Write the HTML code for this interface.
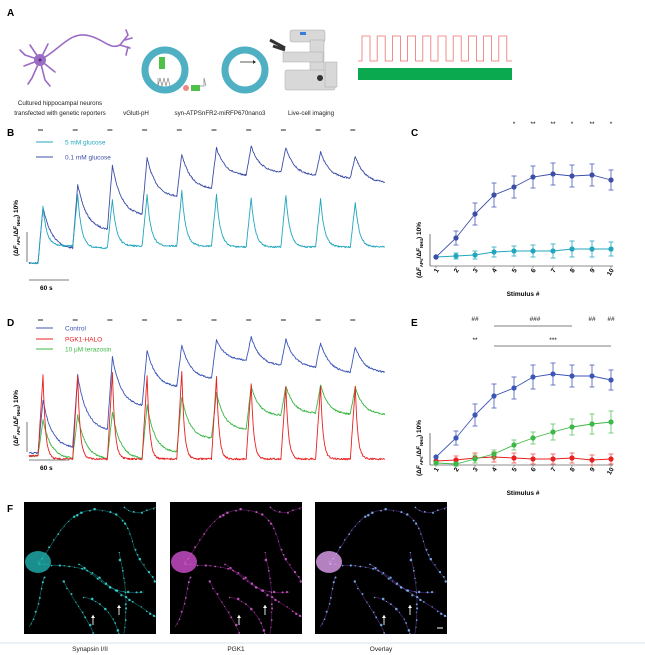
<!DOCTYPE html>
<html><head><meta charset="utf-8">
<style>
html,body{margin:0;padding:0;background:#fff;}
svg{display:block;font-family:"Liberation Sans",Arial,sans-serif;}
</style></head>
<body>
<svg id="s" width="645" height="655" viewBox="0 0 645 655" xmlns="http://www.w3.org/2000/svg">
<rect width="645" height="655" fill="#fff"/>
<text x="7" y="16" font-size="10" font-weight="bold">A</text>
<g stroke="#9b6cc4" stroke-width="1.6" fill="none" stroke-linecap="round">
 <path d="M40 60 C60 50 70 30 90 36 C105 40 110 50 120 45"/>
 <path d="M120 45 L128 35 M120 45 L130 48 M125 40 L132 38 M128 35 L126 30 M128 47 L126 55"/>
 <path d="M40 60 L25 55 M40 60 L24 66 M40 60 L32 78 M40 60 L45 80 M40 60 L55 72 M40 60 L30 45 M40 60 L48 44 M25 55 L20 50 M32 78 L28 84 M45 80 L50 86"/>
</g>
<circle cx="40" cy="60" r="6" fill="#9b6cc4"/><circle cx="40" cy="60" r="1.5" fill="#5a2a80"/>
<circle cx="165" cy="70" r="20" fill="none" stroke="#4fb0c3" stroke-width="7"/>
<rect x="159" y="57" width="6" height="12" fill="#4fc04a"/>
<path d="M158 78 l0 8 l2 -8 l2 8 l2 -8 l2 8 l2 -8 l2 8" stroke="#888" fill="none" stroke-width="0.7"/>
<circle cx="245" cy="70" r="20" fill="none" stroke="#4fb0c3" stroke-width="7"/>
<rect x="191" y="85" width="9" height="6" fill="#4fc04a"/><circle cx="186" cy="88" r="3" fill="#e88"/>
<path d="M200 86 l4 0 l0 -8 l2 8" stroke="#888" fill="none" stroke-width="0.7"/>
<line x1="240" y1="62" x2="253" y2="62" stroke="#333" stroke-width="0.8"/><path d="M253 60 l3 2 l-3 2z" fill="#333"/>
<g fill="#d8d8d8" stroke="#aaa" stroke-width="0.5">
 <rect x="290" y="30" width="35" height="12" rx="2"/>
 <rect x="310" y="40" width="14" height="45"/>
 <rect x="283" y="52" width="40" height="10"/>
 <rect x="285" y="70" width="50" height="20" rx="2"/>
 <rect x="325" y="62" width="12" height="25"/>
</g>
<rect x="300" y="32" width="6" height="3" fill="#3a7bd5"/>
<path d="M270 40 l15 8 M273 46 l12 4" stroke="#333" stroke-width="3"/>
<circle cx="320" cy="78" r="3" fill="#333"/>
<path id="sq" fill="none" stroke="#f07070" stroke-width="0.8"/>
<rect x="358" y="68" width="154" height="12" fill="#0aa84f"/>
<g font-size="6.2" fill="#222" text-anchor="middle">
<text x="60" y="105">Cultured hippocampal neurons</text>
<text x="60" y="115">transfected with genetic reporters</text>
<text x="136" y="115">vGlutl-pH</text>
<text x="220" y="115">syn-ATPSnFR2-miRFP670nano3</text>
<text x="311" y="115">Live-cell imaging</text>
</g>
<g font-size="10" font-weight="bold"><text x="7" y="136">B</text><text x="411" y="136">C</text><text x="7" y="326">D</text><text x="411" y="326">E</text><text x="7" y="512">F</text></g>
<g id="traces"></g>
<g id="plots"></g>
<g id="imgs"></g>
<line x1="0" y1="643" x2="645" y2="643" stroke="#d6e4f0" stroke-width="1"/>
<g font-size="6.5" fill="#222" text-anchor="middle">
<text x="90" y="651">Synapsin I/II</text><text x="236" y="651">PGK1</text><text x="381" y="651">Overlay</text></g>
</svg>
<script>
var NS="http://www.w3.org/2000/svg";
function el(p,t,a,txt){var e=document.createElementNS(NS,t);for(var k in a)e.setAttribute(k,a[k]);if(txt!=null)e.textContent=txt;p.appendChild(e);return e;}
var seed=7;function rnd(){seed=(seed*16807)%2147483647;return seed/2147483647;}
var d="M358 61";for(var i=0;i<10;i++){var x0=362+i*15.2;d+=" L"+x0+" 61 L"+x0+" 36 L"+(x0+8)+" 36 L"+(x0+8)+" 61";}d+=" L512 61";
document.getElementById("sq").setAttribute("d",d);
var T=document.getElementById("traces");
function trace(y0,peaks,troughs,tau,col,noise,base){
 var P=34.7,x=29,pts=[];
 for(;x<38;x+=0.5)pts.push([x,base+(rnd()-.5)*noise]);
 for(var i=0;i<10;i++){
  var s=38+i*P,start=(i==0?base:troughs[i-1]),pk=peaks[i],tr=troughs[i];
  for(var t=0;t<P;t+=0.5){
   var y;
   if(t<5)y=start+(pk-start)*t/5;
   else{var u=t-5,U=P-5,e=(Math.exp(-u/tau)-Math.exp(-U/tau))/(1-Math.exp(-U/tau));y=tr+(pk-tr)*e;}
   pts.push([s+t,y+(rnd()-.5)*noise]);
  }
 }
 el(T,"polyline",{points:pts.map(p=>p[0].toFixed(1)+","+p[1].toFixed(1)).join(" "),fill:"none",stroke:col,"stroke-width":0.9,"stroke-linejoin":"round"});
}
trace(263,[207,184,165,158,154,148,146,148,152,156],[248,229,214,196,188,175,172,175,178,182],9,"#3c4ea8",1.6,263);
trace(263,[207,195,199,195,191,195,198,195,199,202],[246,248,246,246,246,247,247,247,247,247],4,"#22a6bd",1.6,263);
trace(453,[400,375,357,350,345,340,337,339,343,347],[447,429,405,386,378,360,365,367,372,372],9,"#3c56b8",1.6,453);
trace(456,[420,415,412,405,397,393,386,386,385,387],[458,458,458,452,438,429,415,413,414,414],8,"#3cb846",1.6,456);
trace(456,[375,376,372,375,372,376,384,386,386,387],[459,459,459,459,459,459,459,459,459,459],2.5,"#e82020",1.8,456);
for(var i=0;i<10;i++){var bx=38+i*34.7;el(T,"line",{x1:bx,y1:130,x2:bx+5,y2:130,stroke:"#222","stroke-width":1});el(T,"line",{x1:bx,y1:320,x2:bx+5,y2:320,stroke:"#222","stroke-width":1});}
function sb(yv,yh){el(T,"line",{x1:27,y1:yv,x2:27,y2:yv+30,stroke:"#555","stroke-width":0.8});el(T,"line",{x1:29,y1:yh,x2:69,y2:yh,stroke:"#555","stroke-width":0.8});el(T,"text",{x:40,y:yh+10,"font-size":6.5,"font-weight":"bold"},"60 s");}
sb(232,280);sb(422,460);
function ylab(x,y){var t=el(T,"text",{x:0,y:0,"font-size":6.5,"font-weight":"bold",transform:"translate("+x+","+y+") rotate(-90)","text-anchor":"middle"});
 t.innerHTML='(Δ<tspan font-style="italic">F</tspan><tspan font-size="4.5" dy="2">APs</tspan><tspan dy="-2">/Δ</tspan><tspan font-style="italic">F</tspan><tspan font-size="4.5" dy="2">NH4</tspan><tspan dy="-2">) 10%</tspan>';}
ylab(18,228);ylab(18,418);ylab(421,250);ylab(421,448);
function leg(y,col,txt){el(T,"line",{x1:36,y1:y,x2:53,y2:y,stroke:col,"stroke-width":1});el(T,"text",{x:65,y:y+2.5,"font-size":6.5,fill:col},txt);}
leg(142,"#22a6bd","5 mM glucose");leg(157,"#3c4ea8","0.1 mM glucose");
leg(328,"#3c56b8","Control");leg(339,"#e82020","PGK1-HALO");leg(349,"#3cb846","10 μM terazosin");
var P=document.getElementById("plots");var XS=[436,456,475,494,514,533,553,572,592,611];
function axis(ay){el(P,"line",{x1:430,y1:ay,x2:613,y2:ay,stroke:"#666","stroke-width":0.8});el(P,"line",{x1:430,y1:ay-32,x2:430,y2:ay,stroke:"#555","stroke-width":0.8});
 XS.forEach(function(x,i){el(P,"line",{x1:x,y1:ay,x2:x,y2:ay+2,stroke:"#666","stroke-width":0.6});el(P,"text",{x:0,y:0,"font-size":6.5,"font-weight":"bold","text-anchor":"end",transform:"translate("+(x+3)+","+(ay+4)+") rotate(-60)"},String(i+1));});
 el(P,"text",{x:523,y:ay+30,"font-size":6.5,"font-weight":"bold","text-anchor":"middle"},"Stimulus #");}
function series(ys,er,col,lc){el(P,"polyline",{points:XS.map((x,i)=>x+","+ys[i]).join(" "),fill:"none",stroke:col,"stroke-width":0.9});
 XS.forEach(function(x,i){var y=ys[i],e=er[i];if(e>0){el(P,"line",{x1:x,y1:y-e,x2:x,y2:y+e,stroke:lc,"stroke-width":0.9});el(P,"line",{x1:x-2.5,y1:y-e,x2:x+2.5,y2:y-e,stroke:lc,"stroke-width":0.9});el(P,"line",{x1:x-2.5,y1:y+e,x2:x+2.5,y2:y+e,stroke:lc,"stroke-width":0.9});}
 el(P,"circle",{cx:x,cy:y,r:2.6,fill:col});});}
axis(266);
series([257,256,255,252,251,251,251,249,249,249],[0,3,4,5,5,6,7,8,8,7],"#22a6bd","#3db0c6");
series([257,238,214,195,187,177,174,176,175,180],[0,7,11,12,11,11,11,11,11,10],"#3c4ea8","#5b6cc0");
["*","**","**","*","**","*"].forEach(function(s,i){el(P,"text",{x:XS[i+4],y:126,"font-size":6.5,"text-anchor":"middle"},s);});
axis(465);
series([461,460,458,457,458,459,459,458,460,459],[0,4,5,5,5,5,5,5,5,5],"#e82020","#f06060");
series([463,464,459,454,445,438,432,427,424,422],[0,2,4,4,5,6,8,8,10,11],"#3cb846","#6cca70");
series([457,438,415,396,388,377,374,376,376,380],[0,7,11,12,11,12,11,11,11,10],"#3c56b8","#5b6cc0");
function at(x,y,s){el(P,"text",{x:x,y:y,"font-size":6.5,"text-anchor":"middle"},s);}
at(475,321,"##");at(535,321,"###");at(592,321,"##");at(611,321,"##");
el(P,"line",{x1:494,y1:326,x2:572,y2:326,stroke:"#555","stroke-width":0.8});
at(475,342,"**");at(553,342,"***");
el(P,"line",{x1:494,y1:346,x2:611,y2:346,stroke:"#555","stroke-width":0.8});
var I=document.getElementById("imgs");
var paths=["M15 60 C30 45 40 5 75 8 C100 10 105 25 110 45 C115 60 125 70 132 80","M15 62 C35 65 60 60 80 80 C100 95 110 100 132 115","M40 80 C50 100 60 110 70 132","M95 50 C100 75 105 95 100 132","M20 75 C15 95 15 110 5 125","M55 62 C75 75 85 95 120 90","M100 5 C110 15 120 10 132 5","M60 95 C80 100 90 115 95 132"];
function img(ox,col,glow,dc){var g=el(I,"g",{transform:"translate("+ox+",502)"});
 el(g,"rect",{x:0,y:0,width:132,height:132,fill:"#000"});
 seed=11;
 paths.forEach(function(p){var pe=el(g,"path",{d:p,fill:"none",stroke:col,"stroke-width":0.8,opacity:0.45});
  var L=pe.getTotalLength();for(var s=0;s<L;s+=4+rnd()*5){var q=pe.getPointAtLength(s);el(g,"circle",{cx:q.x+(rnd()-.5)*1.5,cy:q.y+(rnd()-.5)*1.5,r:0.5+rnd()*0.8,fill:dc,opacity:0.85});}});
 el(g,"ellipse",{cx:14,cy:60,rx:13,ry:11,fill:glow,opacity:0.8});
 [[69,118],[95,108]].forEach(a=>{el(g,"line",{x1:a[0],y1:a[1]-5,x2:a[0],y2:a[1]+5,stroke:"#fff","stroke-width":0.9});el(g,"path",{d:"M"+(a[0]-2)+" "+(a[1]-2)+" l2 -3 l2 3",fill:"#fff"});});
 return g;}
img(24,"#20c8c8","#20b0b0","#40e0e0");
img(170,"#c030c0","#d050d0","#d060d0");
var g=img(315,"#9050e0","#e0a0f0","#80c0ff");
el(g,"line",{x1:122,y1:126,x2:128,y2:126,stroke:"#fff","stroke-width":1});
</script>
</body></html>
